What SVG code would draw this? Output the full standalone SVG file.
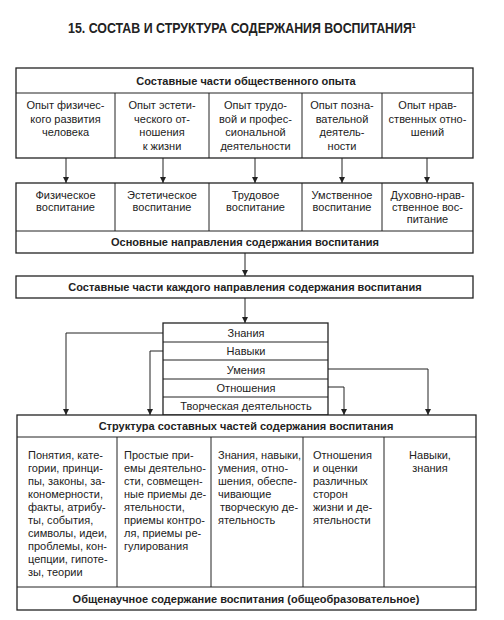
<svg xmlns="http://www.w3.org/2000/svg" width="504" height="620" viewBox="0 0 504 620">
<defs>
<marker id="ah" viewBox="0 0 10 10" refX="10" refY="5" markerWidth="6" markerHeight="6" orient="auto" markerUnits="userSpaceOnUse">
<path d="M0,0 L10,5 L0,10 Z" fill="#222"/>
</marker>
<style>
text{font-family:"Liberation Sans",Arial,sans-serif;fill:#222;}
.t{font-size:11px;}
.c{text-anchor:middle;}
.b{font-weight:bold;font-size:11px;text-anchor:middle;}
.box{fill:#fff;stroke:#222;stroke-width:1.3;}
.ln{stroke:#222;stroke-width:1;fill:none;}
.cn{stroke:#222;stroke-width:1;fill:none;marker-end:url(#ah);}
</style>
</defs>
<rect width="504" height="620" fill="#fff"/>
<text x="68" y="33" font-size="14" font-weight="bold" textLength="348" lengthAdjust="spacingAndGlyphs">15. СОСТАВ И СТРУКТУРА СОДЕРЖАНИЯ ВОСПИТАНИЯ¹</text>

<g id="experience">
<rect class="box" x="16" y="68" width="457" height="90"/>
<line class="ln" x1="16" y1="93" x2="473" y2="93"/>
<line class="ln" x1="115" y1="93" x2="115" y2="158"/>
<line class="ln" x1="209" y1="93" x2="209" y2="158"/>
<line class="ln" x1="302" y1="93" x2="302" y2="158"/>
<line class="ln" x1="382" y1="93" x2="382" y2="158"/>
<text class="b" x="246" y="85">Составные части общественного опыта</text>
<text class="t c" x="65.5" y="109">Опыт физичес-</text>
<text class="t c" x="65.5" y="122.5">кого развития</text>
<text class="t c" x="65.5" y="136">человека</text>
<text class="t c" x="162" y="109">Опыт эстети-</text>
<text class="t c" x="162" y="122.5">ческого от-</text>
<text class="t c" x="162" y="136">ношения</text>
<text class="t c" x="162" y="149.5">к жизни</text>
<text class="t c" x="255.5" y="109">Опыт трудо-</text>
<text class="t c" x="255.5" y="122.5">вой и профес-</text>
<text class="t c" x="255.5" y="136">сиональной</text>
<text class="t c" x="255.5" y="149.5">деятельности</text>
<text class="t c" x="342" y="109">Опыт позна-</text>
<text class="t c" x="342" y="122.5">вательной</text>
<text class="t c" x="342" y="136">деятель-</text>
<text class="t c" x="342" y="149.5">ности</text>
<text class="t c" x="427.5" y="109">Опыт нрав-</text>
<text class="t c" x="427.5" y="122.5">ственных отно-</text>
<text class="t c" x="427.5" y="136">шений</text>
</g>

<g id="directions">
<rect class="box" x="16" y="183" width="457" height="70"/>
<line class="ln" x1="16" y1="231" x2="473" y2="231"/>
<line class="ln" x1="115" y1="183" x2="115" y2="231"/>
<line class="ln" x1="209" y1="183" x2="209" y2="231"/>
<line class="ln" x1="302" y1="183" x2="302" y2="231"/>
<line class="ln" x1="382" y1="183" x2="382" y2="231"/>
<text class="t c" x="65.5" y="199">Физическое</text>
<text class="t c" x="65.5" y="211">воспитание</text>
<text class="t c" x="162" y="199">Эстетическое</text>
<text class="t c" x="162" y="211">воспитание</text>
<text class="t c" x="255.5" y="199">Трудовое</text>
<text class="t c" x="255.5" y="211">воспитание</text>
<text class="t c" x="342" y="199">Умственное</text>
<text class="t c" x="342" y="211">воспитание</text>
<text class="t c" x="427.5" y="199">Духовно-нрав-</text>
<text class="t c" x="427.5" y="211">ственное вос-</text>
<text class="t c" x="427.5" y="223">питание</text>
<text class="b" x="245" y="246">Основные направления содержания воспитания</text>
</g>

<g id="parts">
<rect class="box" x="16" y="276" width="457" height="22"/>
<text class="b" x="245" y="291">Составные части каждого направления содержания воспитания</text>
</g>

<g id="stack">
<rect class="box" x="163" y="323" width="165" height="92"/>
<line class="ln" x1="163" y1="342" x2="328" y2="342"/>
<line class="ln" x1="163" y1="360" x2="328" y2="360"/>
<line class="ln" x1="163" y1="379" x2="328" y2="379"/>
<line class="ln" x1="163" y1="397" x2="328" y2="397"/>
<text class="t c" x="246" y="337">Знания</text>
<text class="t c" x="246" y="355">Навыки</text>
<text class="t c" x="246" y="373.5">Умения</text>
<text class="t c" x="246" y="392">Отношения</text>
<text class="t c" x="246" y="410">Творческая деятельность</text>
</g>

<g id="structure">
<rect class="box" x="17" y="415" width="459" height="195"/>
<line class="ln" x1="17" y1="437" x2="476" y2="437"/>
<line class="ln" x1="17" y1="587" x2="476" y2="587"/>
<line class="ln" x1="117" y1="437" x2="117" y2="587"/>
<line class="ln" x1="211" y1="437" x2="211" y2="587"/>
<line class="ln" x1="303" y1="437" x2="303" y2="587"/>
<line class="ln" x1="384" y1="437" x2="384" y2="587"/>
<text class="b" x="246" y="430">Структура составных частей содержания воспитания</text>
<text class="b" x="246" y="602.5">Общенаучное содержание воспитания (общеобразовательное)</text>
<g class="t">
<text class="t" x="28" y="459">Понятия, кате-</text>
<text class="t" x="28" y="472">гории, принци-</text>
<text class="t" x="28" y="485">пы, законы, за-</text>
<text class="t" x="28" y="498">кономерности,</text>
<text class="t" x="28" y="511">факты, атрибу-</text>
<text class="t" x="28" y="524">ты, события,</text>
<text class="t" x="28" y="537">символы, идеи,</text>
<text class="t" x="28" y="550">проблемы, кон-</text>
<text class="t" x="28" y="563">цепции, гипоте-</text>
<text class="t" x="28" y="576">зы, теории</text>
<text class="t" x="124" y="459">Простые при-</text>
<text class="t" x="124" y="472">емы деятельно-</text>
<text class="t" x="124" y="485">сти, совмещен-</text>
<text class="t" x="124" y="498">ные приемы де-</text>
<text class="t" x="124" y="511">ятельности,</text>
<text class="t" x="124" y="524">приемы контро-</text>
<text class="t" x="124" y="537">ля, приемы ре-</text>
<text class="t" x="124" y="550">гулирования</text>
<text class="t" x="218" y="459">Знания, навыки,</text>
<text class="t" x="218" y="472">умения, отно-</text>
<text class="t" x="218" y="485">шения, обеспе-</text>
<text class="t" x="218" y="498">чивающие</text>
<text class="t" x="220" y="511">творческую де-</text>
<text class="t" x="218" y="524">ятельность</text>
<text class="t" x="313" y="459">Отношения</text>
<text class="t" x="313" y="472">и оценки</text>
<text class="t" x="313" y="485">различных</text>
<text class="t" x="313" y="498">сторон</text>
<text class="t" x="313" y="511">жизни и де-</text>
<text class="t" x="313" y="524">ятельности</text>
<text class="t c" x="430" y="459">Навыки,</text>
<text class="t c" x="430" y="472">знания</text>
</g>
</g>

<g id="connectors">
<line class="cn" x1="66" y1="158" x2="66" y2="183"/>
<line class="cn" x1="163" y1="158" x2="163" y2="183"/>
<line class="cn" x1="255" y1="158" x2="255" y2="183"/>
<line class="cn" x1="342" y1="158" x2="342" y2="183"/>
<line class="cn" x1="427" y1="158" x2="427" y2="183"/>
<line class="cn" x1="245" y1="253" x2="245" y2="276"/>
<line class="cn" x1="245" y1="298" x2="245" y2="323"/>
<polyline class="cn" points="163,333 66,333 66,415"/>
<polyline class="cn" points="163,351 150,351 150,415"/>
<polyline class="cn" points="328,369 428,369 428,415"/>
<polyline class="cn" points="328,387 344,387 344,415"/>
</g>
</svg>
